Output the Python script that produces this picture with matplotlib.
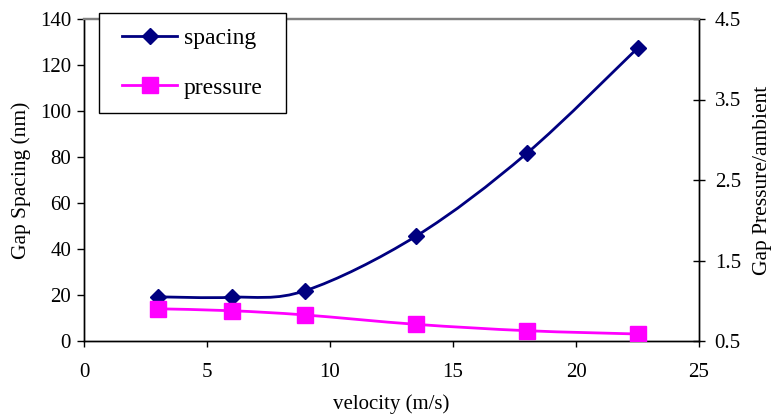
import numpy as np
import matplotlib
matplotlib.use('Agg')
import matplotlib.pyplot as plt
from matplotlib.path import Path
from matplotlib.patches import PathPatch, Rectangle
from matplotlib.lines import Line2D

# данные
velocity = [3, 6, 9, 13.5, 18, 22.5]
spacing = [19.2, 19.0, 21.9, 45.6, 81.6, 127.3]
pressure = [0.90, 0.876, 0.823, 0.707, 0.628, 0.587]

plt.rcParams['font.family'] = ['Liberation Serif', 'DejaVu Serif']

navy = '#000080'
magenta = '#FF00FF'
W, H = 772, 418


def smooth_path(xs, ys):
    # сглаживание как в Excel (кривые Безье через точки)
    pts = np.column_stack([xs, ys]).astype(float)
    n = len(pts)
    verts = [pts[0]]
    codes = [Path.MOVETO]
    for i in range(n - 1):
        p0 = pts[i - 1] if i > 0 else pts[i]
        p1 = pts[i]
        p2 = pts[i + 1]
        p3 = pts[i + 2] if i + 2 < n else pts[i + 1]
        c1 = p1 + (p2 - p0) / 6
        c2 = p2 - (p3 - p1) / 6
        verts += [c1, c2, p2]
        codes += [Path.CURVE4] * 3
    return Path(verts, codes)


fig = plt.figure(figsize=(W / 100, H / 100), dpi=100)
ax = fig.add_axes([84 / W, 1 - 341 / H, 615 / W, 322 / H])
ax2 = ax.twinx()

ax.add_patch(PathPatch(smooth_path(velocity, spacing), fill=False, edgecolor=navy, lw=2, zorder=3))
ax.plot(velocity, spacing, linestyle='none', marker='D', color=navy, ms=8.5, zorder=4)

ax2.add_patch(PathPatch(smooth_path(velocity, pressure), fill=False, edgecolor=magenta, lw=2, zorder=3))
ax2.plot(velocity, pressure, linestyle='none', marker='s', color=magenta, ms=11.5, zorder=4)

ax.set_xlim(0, 25)
ax.set_ylim(0, 140)
ax2.set_ylim(0.5, 4.5)
ax.set_xticks(np.arange(0, 26, 5))
ax.set_yticks(np.arange(0, 141, 20))
ax2.set_yticks([0.5, 1.5, 2.5, 3.5, 4.5])
ax2.set_yticklabels(['0.5', '1.5', '2.5', '3.5', '4.5'])

for a in (ax, ax2):
    for s in a.spines.values():
        s.set_linewidth(1.0)
    a.spines['top'].set_color('#808080')
    a.spines['top'].set_linewidth(1.6)

ax.tick_params(axis='y', labelsize=15, direction='out', length=5, width=1, pad=4.3)
ax.tick_params(axis='x', labelsize=15, direction='out', length=4.5, width=1, pad=11)
ax2.tick_params(axis='y', labelsize=15, direction='inout', length=8.6, width=1, pad=7)

ax.set_xlabel('velocity (m/s)', fontsize=15)
ax.set_ylabel('Gap Spacing (nm)', fontsize=15.5)
ax2.set_ylabel('Gap Pressure/ambient', fontsize=15.5)
ax.xaxis.set_label_coords(0.5, -0.165)
ax.yaxis.set_label_coords(-0.086, 0.5)
ax2.yaxis.set_label_coords(1.088, 0.5)

# рамка легенды
fig.patches.append(Rectangle((99 / W, 1 - 113 / H), 187 / W, 100 / H, transform=fig.transFigure,
                             facecolor='white', edgecolor='black', lw=1.0, zorder=5))
handles = [Line2D([], [], color=navy, lw=2, marker='D', ms=8.5),
           Line2D([], [], color=magenta, lw=2, marker='s', ms=11.5)]
leg = fig.legend(handles, ['spacing', 'pressure'], loc='center',
                 bbox_to_anchor=(99 / W, 1 - 113 / H, 187 / W, 100 / H),
                 bbox_transform=fig.transFigure,
                 fontsize=17, frameon=False, handlelength=2.3,
                 labelspacing=1.2, borderpad=0, handletextpad=0.3, borderaxespad=0)
leg.set_zorder(10)

fig.savefig('out.png', dpi=100)
